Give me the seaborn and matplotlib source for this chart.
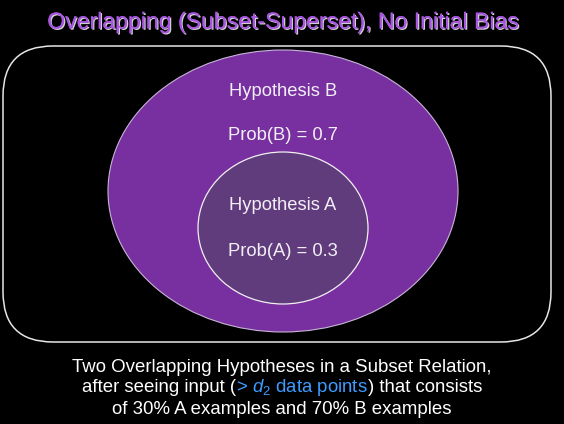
import matplotlib
matplotlib.use("Agg")
import matplotlib.pyplot as plt
import matplotlib.patheffects as pe
from matplotlib.patches import Ellipse, FancyBboxPatch
import seaborn as sns

# data
hypotheses = ["Hypothesis B", "Hypothesis A"]
probs = [0.7, 0.3]
prob_labels = ["Prob(B)", "Prob(A)"]
title = "Overlapping (Subset-Superset), No Initial Bias"
caption = ["Two Overlapping Hypotheses in a Subset Relation,",
           ["after seeing input (", r"> $d_2$ data points", ") that consists"],
           "of 30% A examples and 70% B examples"]

sns.set_theme(style="dark", rc={"axes.facecolor": "black", "figure.facecolor": "black"})
plt.rcParams['font.family'] = ['Liberation Sans', 'DejaVu Sans']
plt.rcParams['mathtext.fontset'] = 'custom'
plt.rcParams['mathtext.rm'] = 'Liberation Sans'
plt.rcParams['mathtext.it'] = 'Liberation Sans:italic'

fig = plt.figure(figsize=(5.64, 4.24), dpi=100)
ax = fig.add_axes([0, 0, 1, 1])
ax.set_xlim(0, 564)
ax.set_ylim(424, 0)
ax.axis('off')

# rounded frame
ax.add_patch(FancyBboxPatch((3, 46), 548, 296, boxstyle="round,pad=0,rounding_size=50",
                            fc='none', ec='#e6e6e6', lw=1.1))

# superset and subset ellipses
ax.add_patch(Ellipse((283, 191), 350, 282, fc='#7830a0', ec='#c8b4d8', lw=0.8))
ax.add_patch(Ellipse((283, 228), 170, 152, fc='#603c7c', ec='#f0f0f0', lw=0.9))

# labels inside
fs = 13.2
label_y = [(92, 135), (206, 251)]
for name, p, pl, (y1, y2) in zip(hypotheses, probs, prob_labels, label_y):
    ax.text(283, y1, name, color='#f2eef6', fontsize=fs, ha='center', va='center')
    ax.text(283, y2, f"{pl} = {p}", color='#f2eef6', fontsize=fs, ha='center', va='center')

# title
ax.text(282, 22, title, color='#a855e0', fontsize=16.6, ha='center', va='center',
        path_effects=[pe.withSimplePatchShadow(offset=(0.9, -0.9), shadow_rgbFace='#e8e8e8', alpha=0.9),
                      pe.Normal()])

# caption
cfs = 13.4
ax.text(282, 367, caption[0], color='white', fontsize=cfs, ha='center', va='center')
ax.text(282, 410, caption[2], color='white', fontsize=cfs, ha='center', va='center')

fig.canvas.draw()
r = fig.canvas.get_renderer()
parts = caption[1]
cols = ['white', '#3d9cff', 'white']
txts = [ax.text(0, 388, s, color=c, fontsize=cfs, ha='left', va='center') for s, c in zip(parts, cols)]
widths = [t.get_window_extent(r).width for t in txts]
x = 282 - sum(widths) / 2
for t, w in zip(txts, widths):
    t.set_x(x)
    x += w

fig.savefig('out.png', dpi=100, facecolor='black')
